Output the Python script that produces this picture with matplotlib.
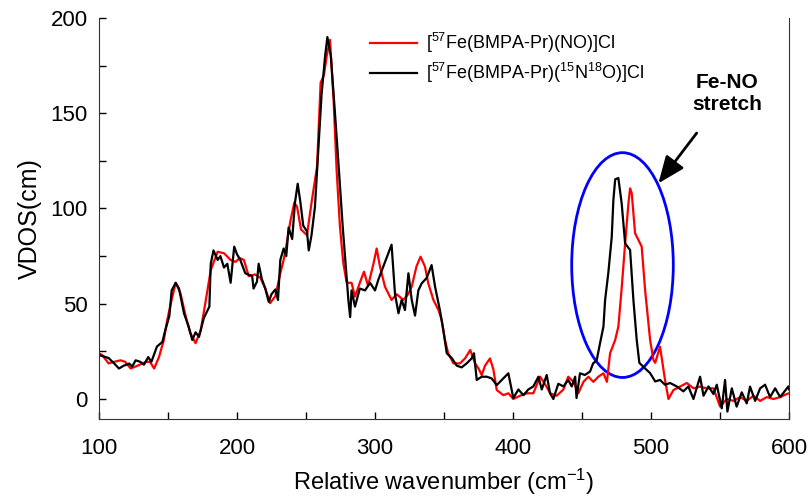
import matplotlib
matplotlib.use("Agg")
import matplotlib.pyplot as plt
from matplotlib.patches import Ellipse
from matplotlib.ticker import MultipleLocator

plt.rcParams["font.family"] = ["Liberation Sans", "DejaVu Sans"]
plt.rcParams["mathtext.fontset"] = "custom"
plt.rcParams["mathtext.rm"] = "Liberation Sans"
plt.rcParams["mathtext.it"] = "Liberation Sans:italic"
plt.rcParams["mathtext.bf"] = "Liberation Sans:bold"

# red: [57Fe(BMPA-Pr)(NO)]Cl
red_x = [100, 102.4, 107, 111, 115.7, 119, 123, 128, 134, 137, 140, 143.5, 147, 149.5,
         152, 155.6, 159, 163, 166, 170, 173.7, 177, 181, 186, 190.6, 195.4, 199,
         202, 205, 208.5, 213, 217, 220.5, 224, 227.8, 231.4, 233.8, 236, 238.6, 241.5,
         243.5, 246.4, 250.7, 254, 258, 260.6, 263, 265, 267.4, 270, 272.2, 274.6, 277,
         279.5, 283, 285.5, 289, 292, 295, 299, 301.2, 303.6, 307.2, 312, 315.7, 320.5,
         324, 326.6, 330, 333, 336.2, 338.6, 342.3, 346, 348.3, 350.7, 353, 356.8, 361.6,
         365.2, 369, 372.5, 375, 377.3, 379.7, 383.3, 385.7, 388.2, 393, 396.6, 400.2,
         405, 410, 414.7, 419.6, 423, 427, 431.6, 436.5, 440, 443.7, 447.3, 451, 454.6,
         458.2, 461.8, 465.5, 468, 470.3, 474, 476.3, 478.8, 481.2, 483.6, 484.8, 486,
         488.4, 492, 493.2, 495.7, 499.3, 501.7, 503, 506.5, 510.1, 512.6, 516.2, 521,
         525.9, 530.7, 535.5, 540.3, 545.2, 550, 554.8, 559.7, 564.5, 569.3, 574.2, 579,
         583.8, 588.7, 593.5, 598.3, 600]
red_y = [24, 23, 18.7, 19.5, 20.3, 19.5, 16, 17.5, 19.5, 19.5, 16, 22, 31, 41.5,
         50, 61, 55.6, 43, 35, 29.3, 36, 50, 67.7, 77.3, 76.5, 73, 72,
         74, 73, 64.5, 65.4, 63.6, 58, 50.3, 54, 66, 73, 81.5, 93, 103,
         101, 89, 86, 103, 122, 166, 170, 180, 188.5, 157, 120, 90.5, 71.4,
         61, 61, 53.7, 61, 66.8, 59.4, 71.4, 79, 69.5, 59, 52, 55, 52,
         55, 59, 69.5, 74.7, 69.5, 60.7, 52, 46.7, 41.5, 31, 24, 18.7, 18.7,
         21.3, 25.7, 18.7, 16, 12.6, 17.5, 21.3, 15.7, 4.7, 2, 3, 0,
         1.7, 3, 3, 11.7, 8, 3, 1.7, 5, 11.7, 9, 3, 9, 11.7,
         9, 11.7, 13.5, 9, 24, 31, 38, 59, 81.7, 102.7, 110.6, 108,
         87, 81.7, 80, 57, 31, 20.5, 19, 27.5, 10, 0, 4.7, 6.5,
         8.4, 5.6, 6.5, 5.6, 5.6, -4, 0, -1, 1, -1, 1.7, -1,
         1, 0, 1, 2.6, 3]

# black: [57Fe(BMPA-Pr)(15N18O)]Cl
black_x = [100, 102.4, 107, 111, 114.5, 118, 122, 124, 126.6, 130, 132.6, 135.7, 138,
           142, 146, 148, 151, 152.7, 155.6, 158, 161.6, 165, 167.6, 170, 172.5, 176,
           180, 181, 183, 186, 188, 190.6, 193, 195.4, 198, 200, 202.4, 206, 211, 212,
           214.5, 215.7, 218, 220.5, 223, 225, 227.8, 229.7, 231.4, 233.8, 235.7, 237.4,
           240, 242, 244, 246, 248, 250.7, 252, 254, 256.5, 259, 261.3, 263.8, 265.5,
           268, 271, 274, 276.6, 279, 280.7, 282, 283, 285.5, 289, 292.8, 296.4, 300,
           302.4, 306, 309.7, 312, 314.5, 317, 319.3, 321.7, 324.2, 326.6, 329, 331.4,
           333.8, 337.4, 341, 343.5, 347, 349.5, 352, 355.6, 359.2, 362.8, 366.4, 370,
           371.7, 373.7, 377.3, 381, 384.5, 388.2, 393, 396.6, 400.2, 403.9, 407.5,
           411.1, 414.7, 418.4, 420.8, 424.4, 426.8, 429.2, 432.8, 436.5, 440, 442.5,
           445, 446, 448.5, 452, 455.8, 458, 460.6, 463, 465.5, 466.7, 469, 471.5, 472.7,
           474, 476.3, 478.7, 481.2, 484.8, 487.2, 489.6, 491.5, 495.7, 499.3, 503,
           506.5, 510.1, 513.8, 518.6, 523.4, 527, 530.7, 535.5, 538, 541.6, 545.2,
           547.6, 551.2, 553.6, 555.3, 558.5, 562, 565.7, 569.3, 571.7, 575.4, 579,
           582.6, 586.2, 589.9, 593.5, 597.1, 599.5, 600]
black_y = [23, 22.6, 21.5, 18.7, 16, 17.5, 18.6, 17, 20.3, 19.5, 18, 22, 19.5,
           27.5, 30, 36, 43.5, 57, 61, 58, 45, 38, 31, 35, 32.6, 42.5,
           48.5, 71, 78, 73, 75, 69, 71, 61, 80, 76, 73, 66, 64.5, 58,
           61.6, 71, 63, 58, 51, 55, 57.5, 52, 73, 79, 75, 90,
           84, 103, 113, 103, 91, 88, 78, 86, 101, 132, 160, 179.7, 190,
           180, 150, 118.6, 90.5, 67.7, 52, 43, 57, 48.5, 58, 57, 61, 57,
           62.6, 69.5, 76.5, 81, 55, 45, 52, 46.7, 66, 52, 43.8, 57,
           60.7, 63.5, 70.3, 59, 46.7, 36, 24, 21.5, 17.5, 16.6, 18.7, 21.3,
           24, 10, 11.7, 11.7, 10.8, 7.3, 10.8, 13.5, 0.5, 5, 2,
           5, 6.6, 11.7, 5, 12.6, 3, 0, 8, 6.6, 10, 6.6,
           11.7, 0.5, 13.5, 12.6, 14.4, 18.7, 20.3, 29.2, 38, 52, 66, 85, 104.5,
           115.3, 116, 102.7, 81.7, 78.2, 52, 31, 19, 16, 13.6, 9.2,
           10, 7.5, 8.4, 6.6, 4, 6.6, 0, 11.7, 1.7, 6.6, 2.6,
           7.5, -4.9, 10, -6.6, 5.6, -4, 3.5, -2.3, 6.5, -1, 5.6,
           7.5, 1, 5.6, 1, 4.4, 6.6, 5]

label_red = r"[$^{57}$Fe(BMPA-Pr)(NO)]Cl"
label_black = r"[$^{57}$Fe(BMPA-Pr)($^{15}$N$^{18}$O)]Cl"

fig = plt.figure(figsize=(8.11, 5), dpi=100)
ax = fig.add_axes([0.122, 0.162, 0.851, 0.802])

ax.plot(red_x, red_y, color="#ff0000", lw=1.6, label=label_red)
ax.plot(black_x, black_y, color="black", lw=1.6, label=label_black)

# circle around the Fe-NO peak
ax.add_patch(Ellipse((479.3, 70.3), 73.6, 118, fill=False, edgecolor="#0000ff", lw=2))
ax.annotate("Fe-NO\nstretch", xy=(505.3, 113.2), xytext=(555, 160.5),
            ha="center", va="center", fontsize=15, fontweight="bold",
            arrowprops=dict(arrowstyle="-|>,head_width=0.45,head_length=1.1",
                            color="black", lw=2, shrinkA=15, shrinkB=0))

ax.set_xlim(100, 600)
ax.set_ylim(-10.5, 200)
ax.xaxis.set_major_locator(MultipleLocator(100))
ax.xaxis.set_minor_locator(MultipleLocator(50))
ax.yaxis.set_major_locator(MultipleLocator(50))
ax.yaxis.set_minor_locator(MultipleLocator(25))
ax.tick_params(which="both", direction="in", length=5, width=1, labelsize=16)
ax.tick_params(axis="x", pad=14)
ax.tick_params(axis="y", pad=8)
ax.spines["top"].set_visible(False)
for s in ["left", "bottom", "right"]:
    ax.spines[s].set_color("#333333")

ax.set_xlabel("Relative wavenumber (cm$^{-1}$)", fontsize=17, labelpad=5)
ax.set_ylabel("VDOS(cm)", fontsize=18, labelpad=6)

ax.legend(loc="upper left", bbox_to_anchor=(0.382, 0.985), frameon=False, fontsize=13,
          handlelength=2.6, handletextpad=0.5, labelspacing=0.3, borderaxespad=0)

fig.savefig("out.png", dpi=100)
